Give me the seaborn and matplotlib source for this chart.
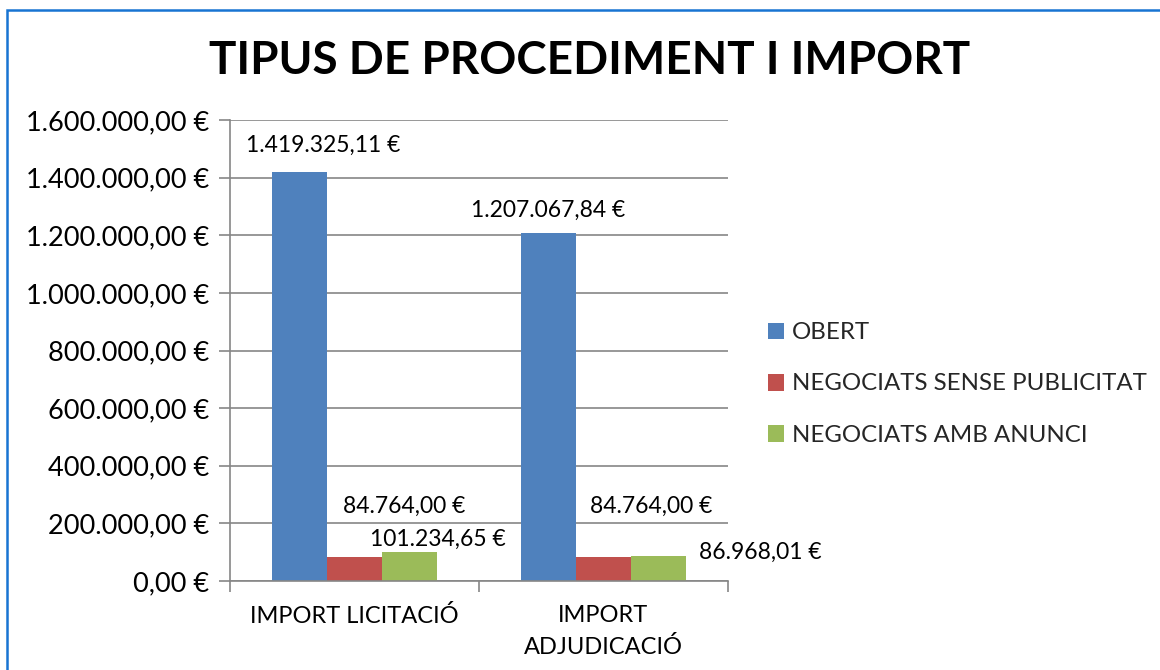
import matplotlib
matplotlib.use("Agg")
import matplotlib.pyplot as plt
import seaborn as sns
import pandas as pd
from matplotlib.patches import Rectangle
from matplotlib.ticker import FuncFormatter, MultipleLocator, FixedLocator

categories = ["IMPORT LICITACIÓ", "IMPORT\nADJUDICACIÓ"]
series = ["OBERT", "NEGOCIATS SENSE PUBLICITAT", "NEGOCIATS AMB ANUNCI"]
obert = [1419325.11, 1207067.84]
sense_pub = [84764.00, 84764.00]
amb_anunci = [101234.65, 86968.01]
title = "TIPUS DE PROCEDIMENT I IMPORT"

colors = ["#4F81BD", "#C0504D", "#9BBB59"]

rows = []
for s, vals in zip(series, [obert, sense_pub, amb_anunci]):
    for c, v in zip(categories, vals):
        rows.append({"cat": c, "serie": s, "val": v})
df = pd.DataFrame(rows)

sns.set_theme(style="white")
FONT = "Lato"
plt.rcParams["font.family"] = [FONT, "DejaVu Sans"]

def eur(v, pos=None):
    s = f"{v:,.2f}"
    s = s.replace(",", "X").replace(".", ",").replace("X", ".")
    return s + " €"

fig = plt.figure(figsize=(11.6, 6.7), dpi=100)
ax = fig.add_axes([230/1160, 1-581/670, (728-230)/1160, (581-120)/670])

sns.barplot(data=df, x="cat", y="val", hue="serie", order=categories,
            hue_order=series, palette=colors, width=0.663, gap=0,
            saturation=1, ax=ax, legend=True, edgecolor="none")

ax.set_ylim(0, 1600000)
ax.set_xlim(-0.5, 1.5)
ax.yaxis.set_major_locator(MultipleLocator(200000))
ax.yaxis.set_major_formatter(FuncFormatter(eur))
ax.grid(axis="y", color="#868686", linewidth=1.2)
ax.set_axisbelow(True)
ax.set_xlabel("")
ax.set_ylabel("")
for sp in ["top", "right"]:
    ax.spines[sp].set_visible(False)
for sp in ["left", "bottom"]:
    ax.spines[sp].set_color("#868686")
    ax.spines[sp].set_linewidth(1.2)

ax.tick_params(axis="y", which="major", direction="out", length=8, width=1.2,
               color="#868686", pad=7, labelsize=19.5, labelcolor="black", left=True)
ax.xaxis.set_minor_locator(FixedLocator([-0.5, 0.5, 1.5]))
ax.tick_params(axis="x", which="minor", direction="out", length=8, width=1.2,
               color="#868686", bottom=True)
ax.tick_params(axis="x", which="major", length=0, pad=17, labelsize=17,
               labelcolor="black")
for lab in ax.get_xticklabels():
    lab.set_linespacing(1.6)

# data labels (offsets in pixels from bar top centre)
offsets = {
    (0, 0): (24, 27), (0, 1): (0, 23),
    (1, 0): (50, 50), (1, 1): (48, 50),
    (2, 0): (28, 12), (2, 1): (102, 4),
}
for si, cont in enumerate(ax.containers):
    for ci, bar in enumerate(cont):
        h = bar.get_height()
        dx, dy = offsets[(si, ci)]
        ax.annotate(eur(h), xy=(bar.get_x() + bar.get_width()/2, h),
                    xytext=(dx, dy), textcoords="offset pixels",
                    ha="center", va="center", fontsize=16.5, color="black",
                    annotation_clip=False)

leg = ax.legend(loc="center left", bbox_to_anchor=(758/1160, 1-384/670),
                bbox_transform=fig.transFigure, frameon=False, fontsize=17.3,
                handlelength=0.7, handleheight=0.7, handletextpad=0.3,
                labelspacing=1.25, borderaxespad=0)

fig.text(590/1160, 1-61/670, title, ha="center", va="center",
         fontsize=33, fontweight="bold", color="black")

fig.patches.append(Rectangle((7/1160, -0.1), 1.2, 1-10/670+0.1,
                             transform=fig.transFigure, fill=False,
                             edgecolor="#1874D2", linewidth=1.8))

fig.savefig("out.png", dpi=100, facecolor="white")
